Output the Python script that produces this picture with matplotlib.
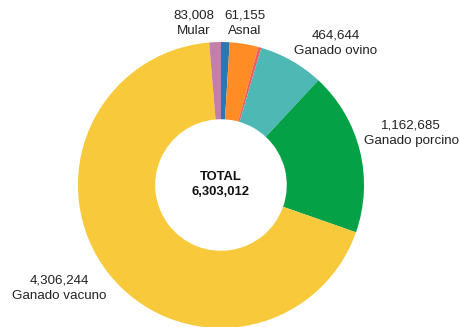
import matplotlib
matplotlib.use("Agg")
import matplotlib.pyplot as plt

plt.rcParams['font.family'] = ['Liberation Sans', 'DejaVu Sans']

# Existencias de ganado por especie (cabezas), en orden de dibujo
especies = ["Asnal", "Ganado caprino", "Equino", "Ganado ovino",
            "Ganado porcino", "Ganado vacuno", "Mular"]
cabezas = [61155, 204276, 21000, 464644, 1162685, 4306244, 83008]
colores = ["#2a78b2", "#ff8c24", "#f25a5c", "#4db8b4",
           "#04a147", "#f8c93a", "#c27fa9"]

# especies rotuladas y posicion de su rotulo (x, y en unidades del radio)
rotuladas = ["Mular", "Asnal", "Ganado ovino", "Ganado porcino", "Ganado vacuno"]
pos_rotulo = [(-0.189, 1.133), (0.168, 1.133), (0.801, 0.990),
              (1.329, 0.360), (-1.129, -0.724)]

total = sum(cabezas)

fig = plt.figure(figsize=(4.59, 3.27), dpi=100)
ax = fig.add_axes([0, 0, 1, 1])

ax.pie(cabezas, colors=colores, startangle=90, counterclock=False,
       radius=1.0, wedgeprops=dict(width=0.54, linewidth=0))

for nombre, (x, y) in zip(rotuladas, pos_rotulo):
    v = cabezas[especies.index(nombre)]
    ax.text(x, y, f"{v:,}\n{nombre}", ha="center", va="center",
            fontsize=9.6, color="#222222", linespacing=1.35)

ax.text(0, 0.004, f"TOTAL\n{total:,}", ha="center", va="center",
        fontsize=9.4, fontweight="bold", color="#111111", linespacing=1.3)

ax.set_xlim(-1.545, 1.664)
ax.set_ylim(-0.993, 1.294)
ax.set_aspect("auto")
ax.axis("off")

fig.savefig("out.png", dpi=100)
